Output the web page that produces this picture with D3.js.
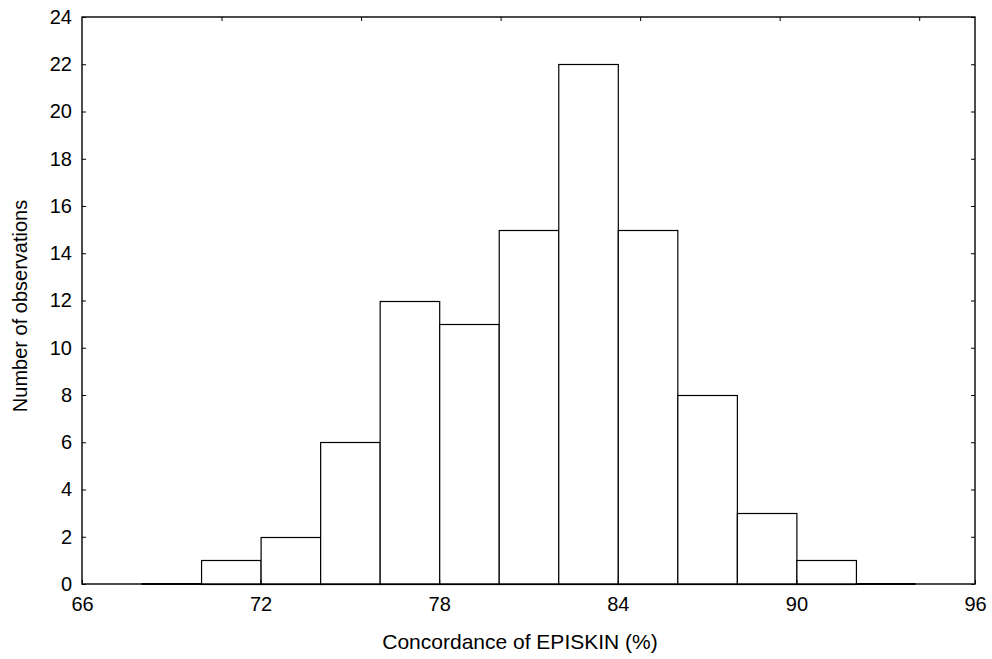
<!DOCTYPE html>
<html>
<head>
<meta charset="utf-8">
<script src="https://cdn.jsdelivr.net/npm/d3@7"></script>
<style>
  body { margin: 0; background: #fff; }
  svg { display: block; font-family: "Liberation Sans", Arial, sans-serif; }
</style>
</head>
<body>
<div id="chart"></div>
<script>
// Histogram bins (left edge, right edge) and counts
const binStarts = [68, 70, 72, 74, 76, 78, 80, 82, 84, 86, 88, 90, 92];
const binWidth = 2;
const counts = [0, 1, 2, 6, 12, 11, 15, 22, 15, 8, 3, 1, 0];
const xTicks = [66, 72, 78, 84, 90, 96];
const yTicks = [0, 2, 4, 6, 8, 10, 12, 14, 16, 18, 20, 22, 24];

const width = 992, height = 659;
const margin = { top: 17, right: 17, bottom: 75, left: 82 };
const innerW = width - margin.left - margin.right;
const innerH = height - margin.top - margin.bottom;

const x = d3.scaleLinear().domain([66, 96]).range([0, innerW]);
const y = d3.scaleLinear().domain([0, 24]).range([innerH, 0]);
// top frame ticks are spaced independently of the bottom scale
const xTop = d3.scaleLinear().domain([0, 6.4]).range([0, innerW]);

const svg = d3.select("#chart").append("svg")
  .attr("width", width)
  .attr("height", height);

const g = svg.append("g").attr("transform", `translate(${margin.left},${margin.top})`);

const data = binStarts.map((s, i) => ({ x0: s, x1: s + binWidth, n: counts[i] }));

// Bars
g.selectAll(".bar")
  .data(data.filter(d => d.n > 0))
  .enter()
  .append("rect")
  .attr("class", "bar")
  .attr("x", d => x(d.x0) + 0.5)
  .attr("y", d => Math.round(y(d.n)) + 0.5)
  .attr("width", d => x(d.x1) - x(d.x0))
  .attr("height", d => Math.round(y(0)) - Math.round(y(d.n)))
  .attr("fill", "#fff")
  .attr("stroke", "#000")
  .attr("stroke-width", 1.2);

// Empty bins shown as a line on the baseline
g.selectAll(".zero")
  .data(data.filter(d => d.n === 0))
  .enter()
  .append("line")
  .attr("x1", d => x(d.x0))
  .attr("x2", d => x(d.x1))
  .attr("y1", y(0))
  .attr("y2", y(0))
  .attr("stroke", "#000")
  .attr("stroke-width", 2);

// Frame
g.append("rect")
  .attr("x", 0)
  .attr("y", 0)
  .attr("width", innerW)
  .attr("height", innerH)
  .attr("fill", "none")
  .attr("stroke", "#000")
  .attr("stroke-width", 1.4);

// Left axis (inward ticks)
const leftAxis = g.append("g")
  .call(d3.axisLeft(y).tickValues(yTicks).tickSizeInner(-4).tickSizeOuter(0).tickPadding(10));
leftAxis.select(".domain").remove();
leftAxis.selectAll("text").style("font-size", "20px").attr("fill", "#000");
leftAxis.selectAll("line").attr("stroke", "#000");

// Right axis ticks
const rightAxis = g.append("g")
  .attr("transform", `translate(${innerW},0)`)
  .call(d3.axisRight(y).tickValues(yTicks).tickSizeInner(-4).tickSizeOuter(0).tickFormat(""));
rightAxis.select(".domain").remove();

// Bottom axis
const bottomAxis = g.append("g")
  .attr("transform", `translate(0,${innerH})`)
  .call(d3.axisBottom(x).tickValues(xTicks).tickSizeInner(-4).tickSizeOuter(0).tickPadding(13));
bottomAxis.select(".domain").remove();
bottomAxis.selectAll("text").style("font-size", "20px").attr("fill", "#000");

// Top ticks
const topAxis = g.append("g")
  .call(d3.axisTop(xTop).tickValues([1, 2, 3, 4, 5, 6]).tickSizeInner(-4).tickSizeOuter(0).tickFormat(""));
topAxis.select(".domain").remove();

// Axis titles
svg.append("text")
  .attr("x", 520)
  .attr("y", 649)
  .attr("text-anchor", "middle")
  .style("font-size", "21px")
  .text("Concordance of EPISKIN (%)");

svg.append("text")
  .attr("transform", `translate(27,306) rotate(-90)`)
  .attr("text-anchor", "middle")
  .style("font-size", "20px")
  .text("Number of observations");
</script>
</body>
</html>
